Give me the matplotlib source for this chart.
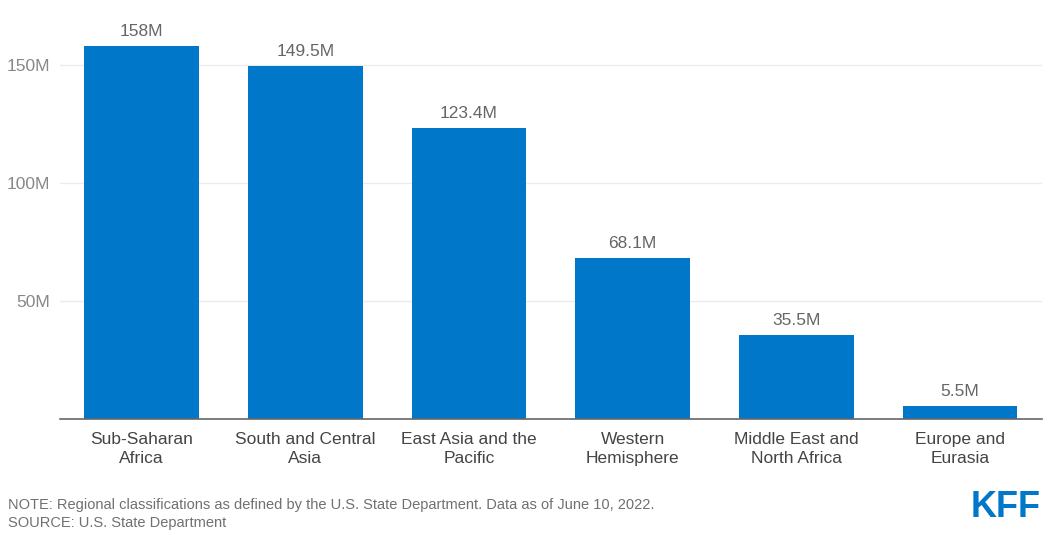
import matplotlib.pyplot as plt
plt.switch_backend('agg')

plt.rcParams['font.family'] = ['Liberation Sans', 'DejaVu Sans']

regions = ["Sub-Saharan\nAfrica", "South and Central\nAsia", "East Asia and the\nPacific",
           "Western\nHemisphere", "Middle East and\nNorth Africa", "Europe and\nEurasia"]
doses = [158, 149.5, 123.4, 68.1, 35.5, 5.5]
value_labels = ["158M", "149.5M", "123.4M", "68.1M", "35.5M", "5.5M"]
y_ticks = [50, 100, 150]
y_tick_labels = ["50M", "100M", "150M"]

BAR_COLOR = "#0077C8"

fig = plt.figure(figsize=(10.51, 5.35), dpi=100)
ax = fig.add_axes([0.0568, 0.2168, 0.9346, 0.7458])

x = range(len(regions))
ax.bar(x, doses, width=0.70, color=BAR_COLOR, zorder=3)

for i, (v, lbl) in enumerate(zip(doses, value_labels)):
    ax.annotate(lbl, (i, v), xytext=(0, 5), textcoords="offset points",
                ha="center", va="bottom", fontsize=12.5, color="#666666")

ax.set_xlim(-0.5, len(regions) - 0.5)
ax.set_ylim(0, 169)
ax.set_xticks(list(x))
ax.set_xticklabels(regions, fontsize=12.5, color="#444444", linespacing=1.4)
ax.set_yticks(y_ticks)
ax.set_yticklabels(y_tick_labels, fontsize=12.5, color="#888888")
ax.tick_params(axis="both", length=0)
ax.tick_params(axis="x", pad=9)
ax.tick_params(axis="y", pad=7)
ax.yaxis.grid(True, color="#ebebeb", linewidth=1, zorder=0)

for side in ["top", "right", "left"]:
    ax.spines[side].set_visible(False)
ax.spines["bottom"].set_color("#666666")
ax.spines["bottom"].set_linewidth(1.2)
ax.spines["bottom"].set_zorder(4)

fig.text(0.0076, 0.056, "NOTE: Regional classifications as defined by the U.S. State Department. Data as of June 10, 2022.",
         fontsize=10.5, color="#707070", va="center")
fig.text(0.0076, 0.0224, "SOURCE: U.S. State Department",
         fontsize=10.5, color="#707070", va="center")
fig.text(0.990, 0.0190, "KFF", fontsize=26, fontweight="bold", color=BAR_COLOR,
         ha="right", va="bottom")

fig.savefig("out.png", dpi=100)
